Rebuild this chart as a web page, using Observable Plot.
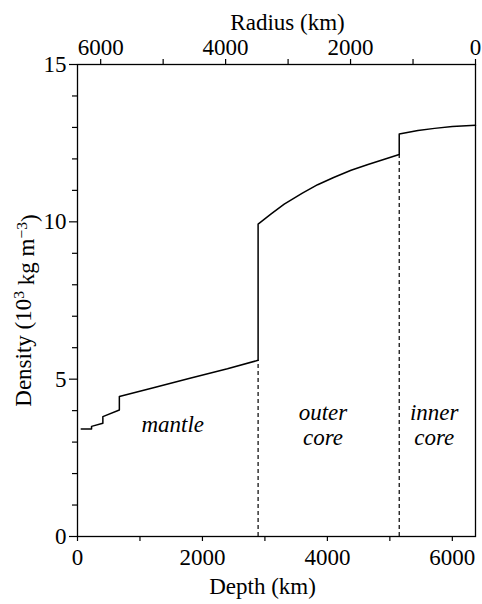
<!DOCTYPE html>
<html>
<head>
<meta charset="utf-8">
<script src="https://cdn.jsdelivr.net/npm/d3@7"></script>
<script src="https://cdn.jsdelivr.net/npm/@observablehq/plot@0.6"></script>
<style>
  html, body { margin: 0; padding: 0; background: #fff; }
  #chart svg { display: block; }
</style>
</head>
<body>
<div id="chart"></div>
<script>
// ---- data ----
const EARTH_RADIUS = 6371;

// density profile (depth in km, density in 10^3 kg m^-3); repeated depths are the jumps
const profileDepth = [60, 225, 225, 406, 406, 670, 670, 1200, 1800, 2400, 2891,
                      2891, 3100, 3309, 3600, 3844, 4100, 4379, 4650, 4913, 5150,
                      5150, 5450, 5715, 6000, 6371];
const profileDensity = [3.42, 3.42, 3.50, 3.60, 3.81, 4.02, 4.45, 4.72, 5.03, 5.33, 5.60,
                        9.93, 10.25, 10.56, 10.91, 11.18, 11.41, 11.64, 11.82, 11.99, 12.14,
                        12.79, 12.90, 12.97, 13.03, 13.07];

// boundaries drawn as dashed lines (core-mantle, inner-core)
const boundaryDepth = [2891, 5150];
const boundaryDensity = [5.60, 12.14];

// region labels
const regionNames = ["mantle", "outer\ncore", "inner\ncore"];
const regionDepth = [1524, 3929, 5710];
const regionDensity = [3.57, 3.57, 3.57];

// ticks
const depthMajor = [0, 2000, 4000, 6000];
const depthMinor = [1000, 3000, 5000];
const radiusMajor = [6000, 4000, 2000, 0];
const radiusMinor = [5000, 3000, 1000];
const densityMajor = [0, 5, 10, 15];
const densityMinor = [1, 2, 3, 4, 6, 7, 8, 9, 11, 12, 13, 14];

const xTitle = "Depth (km)";
const topTitle = "Radius (km)";
const yTitle = "Density (10^3 kg m^-3)";

// ---- chart ----
const profile = profileDepth.map((d, i) => ({depth: d, density: profileDensity[i]}));
const boundaries = boundaryDepth.map((d, i) => ({depth: d, density: boundaryDensity[i]}));
const regions = regionNames.map((n, i) => ({name: n, depth: regionDepth[i], density: regionDensity[i]}));

const FONT = "'Liberation Serif', 'Times New Roman', serif";
const FS = 23;

const chart = Plot.plot({
  width: 482,
  height: 604,
  marginLeft: 77,
  marginRight: 7,
  marginTop: 64,
  marginBottom: 68,
  style: {fontFamily: FONT, fontSize: FS + "px", color: "#000", background: "#fff"},
  x: {domain: [0, EARTH_RADIUS]},
  y: {domain: [0, 15]},
  marks: [
    Plot.frame({stroke: "#000", strokeWidth: 1.3}),
    // bottom depth axis
    Plot.axisX(depthMinor, {anchor: "bottom", tickSize: 5, tickFormat: () => "", label: null, strokeWidth: 1.2}),
    Plot.axisX(depthMajor, {anchor: "bottom", tickSize: 5, tickPadding: 7, tickFormat: d => String(d),
      label: null, fontSize: FS, strokeWidth: 1.2}),
    // top radius axis
    Plot.axisX(radiusMinor.map(r => EARTH_RADIUS - r), {anchor: "top", tickSize: 6, tickFormat: () => "", label: null, strokeWidth: 1.2}),
    Plot.axisX(radiusMajor.map(r => EARTH_RADIUS - r), {anchor: "top", tickSize: 6, tickPadding: 4,
      tickFormat: d => String(Math.round(EARTH_RADIUS - d)), label: null, fontSize: FS, strokeWidth: 1.2}),
    // left density axis
    Plot.axisY(densityMinor, {anchor: "left", tickSize: 5, tickFormat: () => "", label: null, strokeWidth: 1.2}),
    Plot.axisY(densityMajor, {anchor: "left", tickSize: 8, tickPadding: 3, label: null, fontSize: FS, strokeWidth: 1.2}),
    // axis titles
    Plot.text([xTitle], {frameAnchor: "bottom", dy: 57, dx: -14, fontSize: FS}),
    Plot.text([topTitle], {frameAnchor: "top", dy: -51, dx: 11, fontSize: FS}),
    Plot.text([yTitle], {frameAnchor: "left", textAnchor: "middle", rotate: -90, dx: -54, dy: 10, fontSize: FS}),
    // boundaries
    Plot.ruleX(boundaries, {x: "depth", y1: 0, y2: "density", stroke: "#000", strokeWidth: 1.2, strokeDasharray: "4,3"}),
    // profile
    Plot.line(profile, {x: "depth", y: "density", stroke: "#000", strokeWidth: 1.5, curve: "linear"}),
    // region labels
    Plot.text(regions, {x: "depth", y: "density", text: "name", fontStyle: "italic", fontSize: FS, lineHeight: 1.12})
  ]
});

// superscripts in the y title
d3.select(chart).selectAll("text").each(function() {
  if (this.textContent === yTitle) {
    const t = d3.select(this);
    t.text(null);
    t.append("tspan").text("Density (10");
    t.append("tspan").attr("dy", "-0.45em").attr("font-size", "0.68em").text("3");
    t.append("tspan").attr("dy", "0.45em").text(" kg m");
    t.append("tspan").attr("dy", "-0.45em").attr("font-size", "0.68em").text("\u22123");
    t.append("tspan").attr("dy", "0.45em").text(")");
  }
});

document.getElementById("chart").appendChild(chart);
</script>
</body>
</html>
